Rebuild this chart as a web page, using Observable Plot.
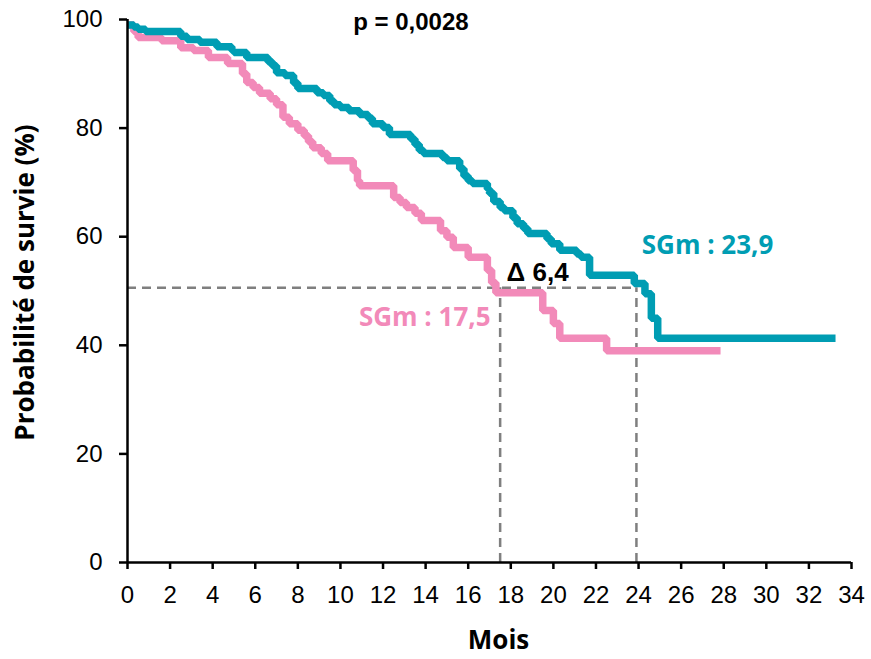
<!DOCTYPE html>
<html>
<head>
<meta charset="utf-8">
<script src="https://cdn.jsdelivr.net/npm/d3@7"></script>
<script src="https://cdn.jsdelivr.net/npm/@observablehq/plot@0.6"></script>
<style>
  html, body { margin: 0; padding: 0; background: #fff; }
</style>
</head>
<body>
<div id="chart"></div>
<script>
// Teal arm (SGm 23,9): months and survival %
const tealMonths = [0,0.3,0.5,0.85,2.5,2.8,3.4,4.2,4.9,5.0,5.6,6.6,6.8,7.0,7.4,7.8,8.0,8.9,9.2,9.5,9.7,10.0,10.4,10.9,11.3,11.5,12.0,12.3,13.3,13.5,13.7,13.9,14.8,15.0,15.6,15.8,16.0,16.2,16.9,17.0,17.2,17.5,17.7,18.1,18.3,18.6,18.8,19.7,19.9,20.3,21.1,21.3,21.7,23.8,24.3,24.6,24.9,33.25];
const tealSurv   = [99,98.6,98.2,97.8,96.9,96.3,95.8,95,94.3,93.9,93,92.2,91.5,90.2,89.7,88.3,87.3,86.5,86,85,84.3,83.8,83.2,82.5,81.8,80.8,80.1,78.8,78,77,75.9,75.3,74.6,74,72.5,71.2,70.3,69.8,68.8,68,66.5,65.4,64.8,63.5,62.4,61.5,60.6,59.6,58.7,57.5,56.8,56.2,52.9,51.4,49.5,45,41.3,41.3];
// Pink arm (SGm 17,5)
const pinkMonths = [0,0.3,0.5,1.6,2.5,3.1,3.8,4.7,5.4,5.6,5.9,6.2,6.7,7,7.3,7.6,8,8.3,8.5,8.7,9.1,9.4,10.6,10.8,10.9,12.5,12.8,13.1,13.5,13.8,14.7,15,15.3,16,16.9,17.1,17.3,19.5,20,20.3,22.5,27.85];
const pinkSurv   = [99,97.8,96.7,96.1,94.8,94.3,93,91.9,90,88.4,87.5,86.4,85.4,84.3,82,80.8,79.6,78.6,77.5,76.4,75.3,74,72.2,70.3,69.4,67.2,66.3,65.4,64.3,63,61.1,59.9,58,56.2,53.8,51.5,49.7,46.4,44,41.3,39,39];

const medianLevel = 50.6;
const medians = [17.5, 23.9];
const xTicks = d3.range(0, 35, 2);
const yTicks = [0, 20, 40, 60, 80, 100];

const tealColor = "#009DB3";
const pinkColor = "#F28AB9";

const teal = tealMonths.map((m, i) => ({x: m, y: tealSurv[i]}));
const pink = pinkMonths.map((m, i) => ({x: m, y: pinkSurv[i]}));

const tealLabel = [{x: 27.24, y: 56.9, text: "SGm : 23,9"}];
const pinkLabel = [{x: 17.05, y: 43.6, text: "SGm : 17,5"}];
const deltaLabel = [{x: 17.8, y: 51.9, text: "Δ 6,4"}];
const pLabel = [{x: 10.6, y: 98.1, text: "p = 0,0028"}];

const chart = Plot.plot({
  width: 871,
  height: 659,
  marginLeft: 127,
  marginRight: 20,
  marginTop: 19,
  marginBottom: 97,
  style: {fontFamily: "'Liberation Sans', Arial, sans-serif", fontSize: "24px", color: "#000", background: "#fff"},
  x: {domain: [0, 34]},
  y: {domain: [0, 100]},
  marks: [
    Plot.ruleY([medianLevel], {x1: 0, x2: medians[1], stroke: "#7F7F7F", strokeWidth: 2.5, strokeDasharray: "9,6"}),
    Plot.ruleX(medians, {y1: 0, y2: medianLevel, stroke: "#7F7F7F", strokeWidth: 2.5, strokeDasharray: "9,6"}),
    Plot.line(pink, {x: "x", y: "y", curve: "step-after", stroke: pinkColor, strokeWidth: 7.5, strokeLinejoin: "miter", strokeLinecap: "butt"}),
    Plot.line(teal, {x: "x", y: "y", curve: "step-after", stroke: tealColor, strokeWidth: 7.5, strokeLinejoin: "miter", strokeLinecap: "butt"}),
    Plot.ruleX([0], {stroke: "#000", strokeWidth: 2.5}),
    Plot.ruleY([0], {stroke: "#000", strokeWidth: 2.5}),
    Plot.axisX({ticks: xTicks, tickSize: 7, tickPadding: 16, tickFormat: d => String(d), label: null, fontSize: 24, strokeWidth: 2.5, stroke: "#000"}),
    Plot.axisY({ticks: yTicks, tickSize: 8, tickPadding: 17, tickFormat: d => String(d), label: null, fontSize: 24, strokeWidth: 2.5, stroke: "#000"}),
    Plot.text(tealLabel, {x: "x", y: "y", text: "text", fill: tealColor, textAnchor: "middle", lineAnchor: "bottom", fontWeight: "bold", fontSize: 26, fontFamily: "'Open Sans', sans-serif"}),
    Plot.text(pinkLabel, {x: "x", y: "y", text: "text", fill: pinkColor, textAnchor: "end", lineAnchor: "bottom", fontWeight: "bold", fontSize: 26, fontFamily: "'Open Sans', sans-serif"}),
    Plot.text(deltaLabel, {x: "x", y: "y", text: "text", textAnchor: "start", lineAnchor: "bottom", fontWeight: "bold", fontSize: 26, fontFamily: "'Liberation Sans', Arial, sans-serif"}),
    Plot.text(pLabel, {x: "x", y: "y", text: "text", textAnchor: "start", lineAnchor: "bottom", fontWeight: "bold", fontSize: 24, fontFamily: "'Liberation Sans', Arial, sans-serif"}),
    Plot.text(["Mois"], {frameAnchor: "bottom", textAnchor: "middle", dx: 9, dy: 86, lineAnchor: "bottom", fontWeight: "bold", fontSize: 26, fontFamily: "'Open Sans', sans-serif"}),
    Plot.text(["Probabilité de survie (%)"], {frameAnchor: "left", textAnchor: "middle", rotate: -90, dx: -102, dy: -8.5, fontWeight: "bold", fontSize: 26, fontFamily: "'Open Sans', sans-serif"})
  ]
});
document.getElementById("chart").appendChild(chart);
</script>
</body>
</html>
